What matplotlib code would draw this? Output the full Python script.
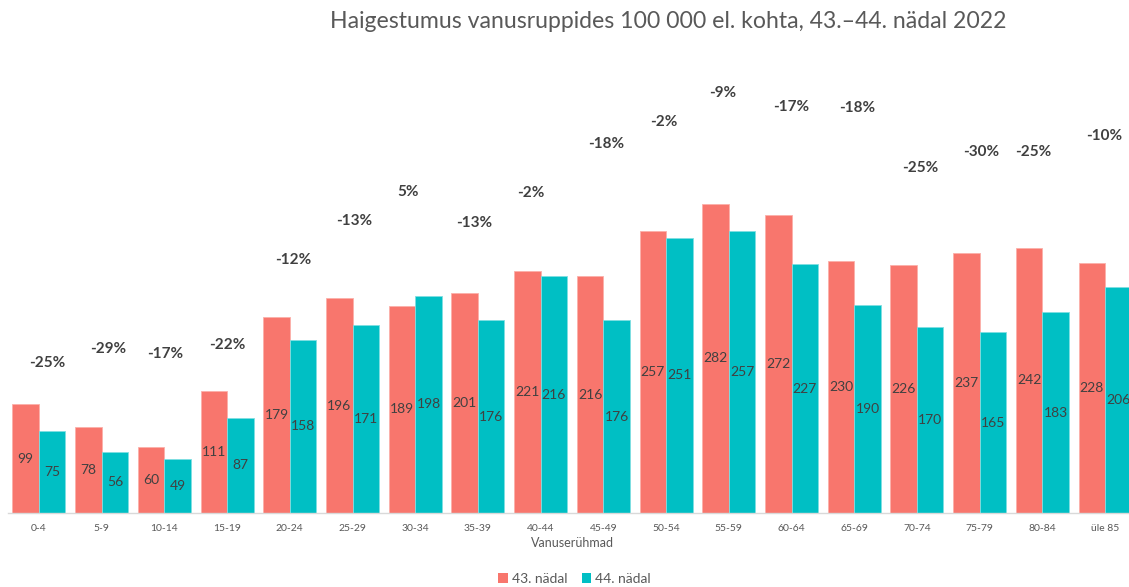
import matplotlib
matplotlib.use("Agg")
import matplotlib.pyplot as plt
import numpy as np
from matplotlib.patches import Patch

categories = ["0-4", "5-9", "10-14", "15-19", "20-24", "25-29", "30-34", "35-39", "40-44",
              "45-49", "50-54", "55-59", "60-64", "65-69", "70-74", "75-79", "80-84", "üle 85"]
week43 = [99, 78, 60, 111, 179, 196, 189, 201, 221, 216, 257, 282, 272, 230, 226, 237, 242, 228]
week44 = [75, 56, 49, 87, 158, 171, 198, 176, 216, 176, 251, 257, 227, 190, 170, 165, 183, 206]
pct_labels = ["-25%", "-29%", "-17%", "-22%", "-12%", "-13%", "5%", "-13%", "-2%",
              "-18%", "-2%", "-9%", "-17%", "-18%", "-25%", "-30%", "-25%", "-10%"]
# heights (in data units) at which the change labels sit
pct_label_y = [136.7, 149.5, 144.9, 153.1, 230.6, 266.2, 292.6, 264.4, 291.7,
               336.4, 356.4, 382.9, 370.1, 369.2, 314.5, 329.1, 329.1, 343.7]
pct_label_dx = [0.13, 0.11, 0.02, 0.0, 0.06, 0.02, -0.11, -0.06, -0.16,
                0.05, -0.03, -0.10, 0.0, 0.05, 0.06, 0.02, -0.14, -0.02]
series_names = ["43. nädal", "44. nädal"]
title = "Haigestumus vanusruppides 100 000 el. kohta, 43.–44. nädal 2022"
xlabel = "Vanuserühmad"

RED = "#F8766D"
TEAL = "#00BFC4"
DARK = "#404040"
GREY = "#595959"

plt.rcParams['font.family'] = ['Lato', 'DejaVu Sans']

fig = plt.figure(figsize=(11.29, 5.87), dpi=100)
ax = fig.add_axes([0.0067, 0.126, 0.9999, 0.8409])

x = np.arange(len(categories))
w = 0.4225
b1 = ax.bar(x - w / 2, week43, width=w, color=RED, edgecolor="#FBB0AA", linewidth=0.6)
b2 = ax.bar(x + w / 2, week44, width=w, color=TEAL, edgecolor="#7FDFE1", linewidth=0.6)

for rect, v in zip(b1, week43):
    ax.text(rect.get_x() + rect.get_width() / 2, v / 2, str(v), ha="center", va="center",
            fontsize=10, color=DARK)
for rect, v in zip(b2, week44):
    ax.text(rect.get_x() + rect.get_width() / 2, v / 2, str(v), ha="center", va="center",
            fontsize=10, color=DARK)

for i, (lab, yy, dx) in enumerate(zip(pct_labels, pct_label_y, pct_label_dx)):
    ax.text(i + dx, yy, lab, ha="center", va="center", fontsize=11, fontweight="bold", color=DARK)

ax.set_xlim(-0.5, len(categories) - 0.5)
ax.set_ylim(0, 450)
ax.set_yticks([])
ax.set_xticks(x)
ax.set_xticklabels(categories, fontsize=7.5, color=GREY)
ax.tick_params(axis="x", length=0, pad=8)
for s in ["top", "right", "left"]:
    ax.spines[s].set_visible(False)
ax.spines["bottom"].set_color("#D9D9D9")
ax.spines["bottom"].set_linewidth(1)
ax.set_xlabel(xlabel, fontsize=9, color=GREY, labelpad=3)

fig.text(668 / 1129, 1 - 22 / 587, title, ha="center", va="center", fontsize=16.6, color=GREY)

handles = [Patch(facecolor=RED), Patch(facecolor=TEAL)]
fig.legend(handles, series_names, loc="center", bbox_to_anchor=(0.509, 1 - 579 / 587),
           ncol=2, frameon=False, fontsize=10, handlelength=0.7, handleheight=0.7,
           handletextpad=0.3, columnspacing=1.0, labelcolor=GREY)

fig.savefig("out.png", dpi=100)
